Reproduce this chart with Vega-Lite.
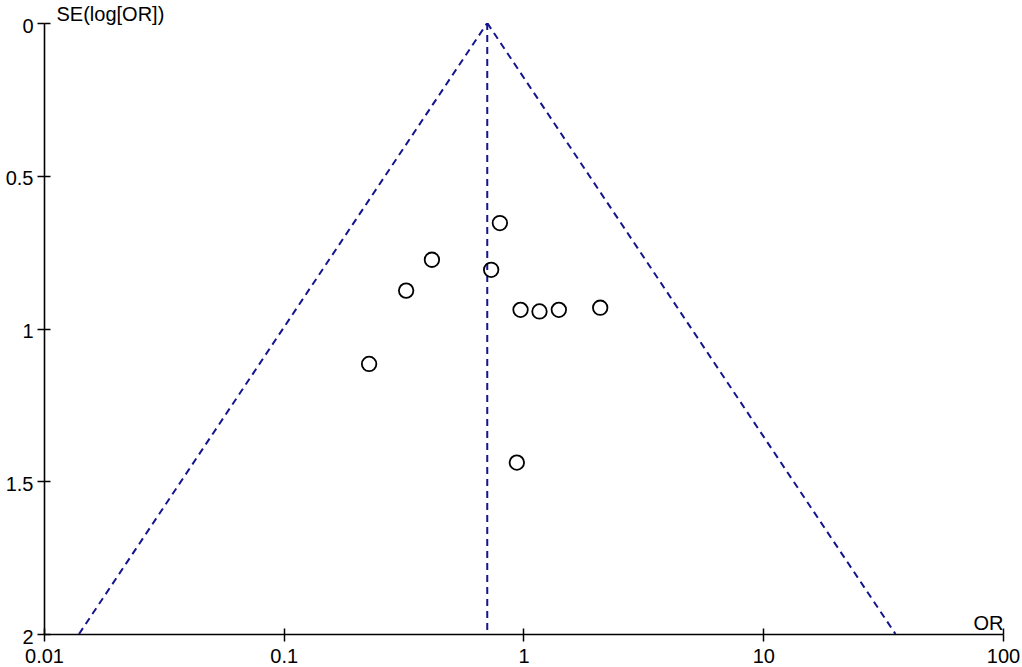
{
  "$schema": "https://vega.github.io/schema/vega-lite/v6.json",
  "width": 959,
  "height": 611,
  "autosize": {"type": "none"},
  "padding": {"left": 44, "top": 23, "right": 19, "bottom": 33},
  "background": "white",
  "config": {
    "view": {"stroke": null},
    "font": "Liberation Sans",
    "axis": {
      "labelFont": "Liberation Sans",
      "titleFont": "Liberation Sans",
      "domainColor": "black",
      "tickColor": "black",
      "labelColor": "black",
      "titleColor": "black",
      "grid": false,
      "titleFontWeight": "normal",
      "domainWidth": 1.6,
      "tickWidth": 1.5
    }
  },
  "datasets": {
    "funnel": [
      {"or": 0.706, "se": 0, "side": "left"},
      {"or": 0.0140, "se": 2, "side": "left"},
      {"or": 0.706, "se": 0, "side": "right"},
      {"or": 35.6, "se": 2, "side": "right"}
    ],
    "pooled": [
      {"or": 0.706, "se_top": 0, "se_bottom": 2}
    ],
    "studies": [
      {"or": 0.797, "se": 0.655},
      {"or": 0.415, "se": 0.775},
      {"or": 0.733, "se": 0.808},
      {"or": 0.324, "se": 0.876},
      {"or": 0.972, "se": 0.939},
      {"or": 1.166, "se": 0.944},
      {"or": 1.404, "se": 0.939},
      {"or": 2.089, "se": 0.932},
      {"or": 0.227, "se": 1.116},
      {"or": 0.938, "se": 1.439}
    ]
  },
  "layer": [
    {
      "data": {"name": "funnel"},
      "mark": {"type": "line", "stroke": "#14148c", "strokeWidth": 2, "strokeDash": [7, 5], "clip": true},
      "encoding": {
        "x": {
          "field": "or", "type": "quantitative",
          "scale": {"type": "log", "domain": [0.01, 100], "nice": false},
          "axis": {
            "orient": "bottom",
            "values": [0.01, 0.1, 1, 10, 100],
            "format": "~g",
            "labelFontSize": 20,
            "labelPadding": 5,
            "labelFlush": false,
            "labelOverlap": false,
            "tickSize": 7,
            "title": "OR",
            "titleFontSize": 20,
            "titleAlign": "right",
            "titleBaseline": "alphabetic",
            "titleX": 959,
            "titleY": -5,
            "titleAnchor": null
          }
        },
        "y": {
          "field": "se", "type": "quantitative",
          "scale": {"domain": [0, 2], "reverse": true, "nice": false, "zero": false},
          "axis": {
            "orient": "left",
            "values": [0, 0.5, 1, 1.5, 2],
            "format": "~g",
            "labelFontSize": 20,
            "labelPadding": 4,
            "labelOffset": 3,
            "labelFlush": false,
            "labelOverlap": false,
            "tickSize": 7,
            "title": "SE(log[OR])",
            "titleFontSize": 20,
            "titleAngle": 0,
            "titleAlign": "left",
            "titleBaseline": "alphabetic",
            "titleX": 12,
            "titleY": -3
          }
        },
        "detail": {"field": "side", "type": "nominal"}
      }
    },
    {
      "data": {"name": "pooled"},
      "mark": {"type": "rule", "stroke": "#14148c", "strokeWidth": 2, "strokeDash": [7, 5]},
      "encoding": {
        "x": {"field": "or", "type": "quantitative", "axis": null},
        "y": {"field": "se_top", "type": "quantitative", "axis": null},
        "y2": {"field": "se_bottom"}
      }
    },
    {
      "data": {"name": "studies"},
      "mark": {"type": "point", "shape": "circle", "filled": false, "stroke": "black", "strokeWidth": 1.8, "size": 210, "opacity": 1},
      "encoding": {
        "x": {
          "field": "or", "type": "quantitative",
          "axis": {
            "orient": "bottom",
            "values": [0.01, 0.1, 1, 10, 100],
            "labels": false,
            "domain": false,
            "tickSize": 6,
            "offset": -6,
            "title": null
          }
        },
        "y": {
          "field": "se", "type": "quantitative",
          "axis": {
            "orient": "left",
            "values": [0, 0.5, 1, 1.5, 2],
            "labels": false,
            "domain": false,
            "tickSize": 6,
            "offset": -6,
            "title": null
          }
        }
      }
    }
  ],
  "resolve": {"axis": {"x": "independent", "y": "independent"}}
}
